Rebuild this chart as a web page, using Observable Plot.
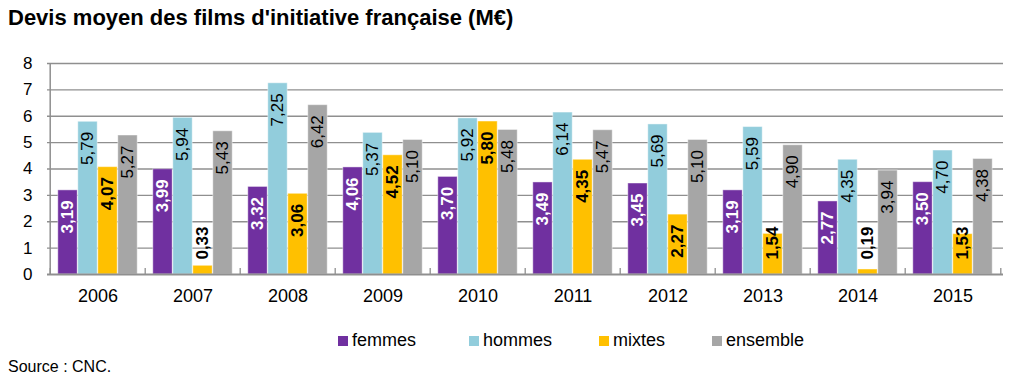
<!DOCTYPE html>
<html>
<head>
<meta charset="utf-8">
<script src="https://cdn.jsdelivr.net/npm/d3@7"></script>
<script src="https://cdn.jsdelivr.net/npm/@observablehq/plot@0.6"></script>
<style>
  html, body { margin: 0; padding: 0; background: #fff; }
  body { width: 1024px; height: 391px; position: relative; overflow: hidden;
         font-family: "Liberation Sans", Arial, sans-serif; color: #000; }
  #title { position: absolute; left: 8px; top: 5px; font-size: 22px; font-weight: bold; white-space: nowrap; }
  #chart { position: absolute; left: 0; top: 40px; }
  #legend { position: absolute; left: 0; top: 330px; width: 1024px; height: 24px; font-size: 18px; }
  #legend .item { position: absolute; top: 0; display: flex; align-items: center; white-space: nowrap; }
  #legend .sw { width: 10px; height: 10px; margin-right: 4px; }
  #source { position: absolute; left: 8px; top: 358px; font-size: 16px; }
</style>
</head>
<body>
<div id="title">Devis moyen des films d'initiative française (M€)</div>
<div id="chart"></div>
<div id="legend"></div>
<div id="source">Source : CNC.</div>
<script>
// ---- data ----
const years = ["2006", "2007", "2008", "2009", "2010", "2011", "2012", "2013", "2014", "2015"];
const series = ["femmes", "hommes", "mixtes", "ensemble"];
const femmes   = [3.19, 3.99, 3.32, 4.06, 3.70, 3.49, 3.45, 3.19, 2.77, 3.50];
const hommes   = [5.79, 5.94, 7.25, 5.37, 5.92, 6.14, 5.69, 5.59, 4.35, 4.70];
const mixtes   = [4.07, 0.33, 3.06, 4.52, 5.80, 4.35, 2.27, 1.54, 0.19, 1.53];
const ensemble = [5.27, 5.43, 6.42, 5.10, 5.48, 5.47, 5.10, 4.90, 3.94, 4.38];
const yTicks = [0, 1, 2, 3, 4, 5, 6, 7, 8];
const colors = ["#7030A0", "#92CDDC", "#FFC000", "#A6A6A6"];

const valuesBySeries = {femmes, hommes, mixtes, ensemble};
const rows = series.flatMap((s, k) =>
  years.map((y, i) => ({year: y, series: s, k, value: valuesBySeries[s][i]})));

// ---- layout ----
const W = 1024, H = 270, mT = 23, mB = 36, mL = 47, mR = 21;
const step = (W - mL - mR) / years.length;
const barW = 20;
const inset = (step - barW) / 2;
const ppu = (H - mT - mB) / 8;
const fmt = v => d3.format(".2f")(v).replace(".", ",");
const gridColor = "#8f8f8f";
const legendLeft = [338, 469, 599, 712];

const labelStyle = [
  {fill: "white", fontWeight: "bold"},
  {fill: "black", fontWeight: "normal"},
  {fill: "black", fontWeight: "bold"},
  {fill: "black", fontWeight: "normal"}
];

const marks = [
  Plot.ruleY(yTicks.filter(t => t > 0), {y: d => d, stroke: gridColor, strokeWidth: 1.3}),
];
series.forEach((s, k) => {
  const data = rows.filter(r => r.series === s);
  marks.push(Plot.barY(data, {
    x: "year", y: "value", fill: colors[k],
    stroke: "white", strokeOpacity: 0.45, strokeWidth: 1,
    insetLeft: inset, insetRight: inset, dx: (k - 1.5) * barW
  }));
});
marks.push(
  Plot.ruleY([0], {stroke: gridColor, strokeWidth: 2}),
  Plot.ruleX([years[0]], {dx: -step / 2, stroke: gridColor, strokeWidth: 1.5}),
  Plot.ruleX(years, {dx: -step / 2, y1: 0, y2: 6 / ppu, stroke: gridColor, strokeWidth: 1.3}),
  Plot.ruleX([years[years.length - 1]], {dx: step / 2, y1: 0, y2: 6 / ppu, stroke: gridColor, strokeWidth: 1.3})
);
series.forEach((s, k) => {
  const data = rows.filter(r => r.series === s);
  marks.push(Plot.text(data, {
    x: "year",
    y: d => Math.max(d.value, 2.2),
    text: d => fmt(d.value),
    rotate: -90, textAnchor: "end", lineAnchor: "middle",
    dx: (k - 1.5) * barW, dy: 10,
    fontSize: 17, ...labelStyle[k]
  }));
});
marks.push(
  Plot.axisY(yTicks, {tickSize: 0, tickPadding: 15, fontSize: 17, fill: "black"}),
  Plot.axisX({tickSize: 0, tickPadding: 15, fontSize: 18, fill: "black"})
);

const chart = Plot.plot({
  width: W, height: H,
  marginTop: mT, marginBottom: mB, marginLeft: mL, marginRight: mR,
  style: {fontFamily: "'Liberation Sans', Arial, sans-serif", background: "white", overflow: "visible"},
  x: {type: "band", domain: years, paddingInner: 0, paddingOuter: 0, label: null},
  y: {domain: [0, 8], label: null},
  marks
});
document.getElementById("chart").append(chart);

const legend = document.getElementById("legend");
series.forEach((s, k) => {
  const it = document.createElement("div");
  it.className = "item";
  it.style.left = legendLeft[k] + "px";
  it.innerHTML = `<span class="sw" style="background:${colors[k]}"></span><span>${s}</span>`;
  legend.append(it);
});
</script>
</body>
</html>
